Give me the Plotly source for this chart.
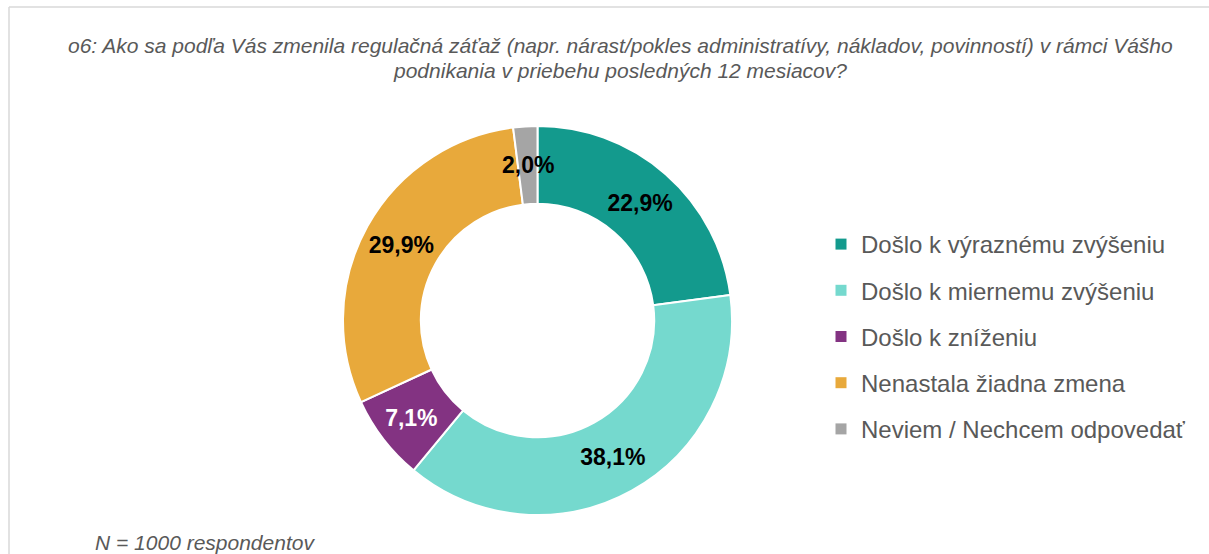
import math
import plotly.graph_objects as go

# ---- data ----
categories = [
    "Došlo k výraznému zvýšeniu",
    "Došlo k miernemu zvýšeniu",
    "Došlo k zníženiu",
    "Nenastala žiadna zmena",
    "Neviem / Nechcem odpovedať",
]
values = [22.9, 38.1, 7.1, 29.9, 2.0]
colors = ["#139A8D", "#75D9CE", "#833382", "#E8A93B", "#A5A5A5"]
label_colors = ["#000000", "#000000", "#FFFFFF", "#000000", "#000000"]

subtitle_lines = [
    "o6: Ako sa podľa Vás zmenila regulačná záťaž (napr. nárast/pokles administratívy, "
    "nákladov, povinností) v rámci Vášho",
    "podnikania v priebehu posledných 12 mesiacov?",
]
note = "N = 1000 respondentov"

W, H = 1209, 554
FONT = "Liberation Sans, Arial, sans-serif"

def fmt(v):
    return f"{v:.1f}".replace(".", ",") + "%"

# small slices get their label placed by an annotation (computed from data)
small = [v < 5 for v in values]
texts = ["" if s else fmt(v) for v, s in zip(values, small)]

# pie geometry (pixels)
cx, cy, R = 537.5, 320.5, 194.5
hole = 0.6
dom_x = [(cx - R) / W, (cx + R) / W]
dom_y = [1 - (cy + R) / H, 1 - (cy - R) / H]

fig = go.Figure()
fig.add_trace(go.Pie(
    labels=categories,
    values=values,
    text=texts,
    textinfo="text",
    textposition="inside",
    insidetextorientation="horizontal",
    sort=False,
    direction="clockwise",
    rotation=0,
    hole=hole,
    marker=dict(colors=colors, line=dict(color="#FFFFFF", width=2)),
    insidetextfont=dict(family=FONT, size=23, color=label_colors, weight="bold"),
    domain=dict(x=dom_x, y=dom_y),
    hoverinfo="label+percent",
    showlegend=False,
))

# legend entries (one per category, spaced like the original)
for cat, col in zip(categories, colors):
    fig.add_trace(go.Scatter(
        x=[None], y=[None], mode="markers", name=cat, legendgroup=cat,
        marker=dict(symbol="square", size=11, color=col),
        showlegend=True, hoverinfo="skip",
    ))

annotations = []
total = sum(values)
cum = 0.0
rmid = R * (1 + hole) / 2
for v, s, c in zip(values, small, label_colors):
    mid = (cum + v / 2) / total * 2 * math.pi
    cum += v
    if s:
        px = cx + rmid * math.sin(mid)
        py = cy - rmid * math.cos(mid)
        annotations.append(dict(
            x=px / W, y=1 - py / H, xref="paper", yref="paper",
            text=f"<b>{fmt(v)}</b>", showarrow=False,
            font=dict(family=FONT, size=23, color=c),
            xanchor="center", yanchor="middle"))

for line, ly in zip(subtitle_lines, [46, 70]):
    annotations.append(dict(
        x=620 / W, y=1 - ly / H, xref="paper", yref="paper",
        text=f"<i>{line}</i>", showarrow=False, align="center",
        font=dict(family=FONT, size=21, color="#595959"),
        xanchor="center", yanchor="middle"))
annotations.append(dict(
    x=93 / W, y=1 - 542 / H, xref="paper", yref="paper",
    text=f"<i>{note}</i>", showarrow=False, align="left",
    font=dict(family=FONT, size=21, color="#595959"),
    xanchor="left", yanchor="middle"))

frame = dict(color="#D9D9D9", width=1.5)
fig.update_layout(
    width=W, height=H,
    margin=dict(l=0, r=0, t=0, b=0),
    paper_bgcolor="#FFFFFF",
    plot_bgcolor="#FFFFFF",
    showlegend=True,
    xaxis=dict(visible=False),
    yaxis=dict(visible=False),
    legend=dict(
        x=821 / W, y=1 - 222 / H, xanchor="left", yanchor="top",
        font=dict(family=FONT, size=24, color="#595959"),
        bgcolor="rgba(0,0,0,0)",
        traceorder="grouped",
        tracegroupgap=12,
    ),
    annotations=annotations,
    shapes=[
        dict(type="line", xref="paper", yref="paper",
             x0=9 / W, x1=1.01, y0=1 - 7 / H, y1=1 - 7 / H, line=frame, layer="below"),
        dict(type="line", xref="paper", yref="paper",
             x0=9 / W, x1=9 / W, y0=-0.05, y1=1 - 7 / H, line=frame, layer="below"),
    ],
)

fig.write_html("out.html", config={"displayModeBar": False},
               post_script="document.body.style.margin='0';")
